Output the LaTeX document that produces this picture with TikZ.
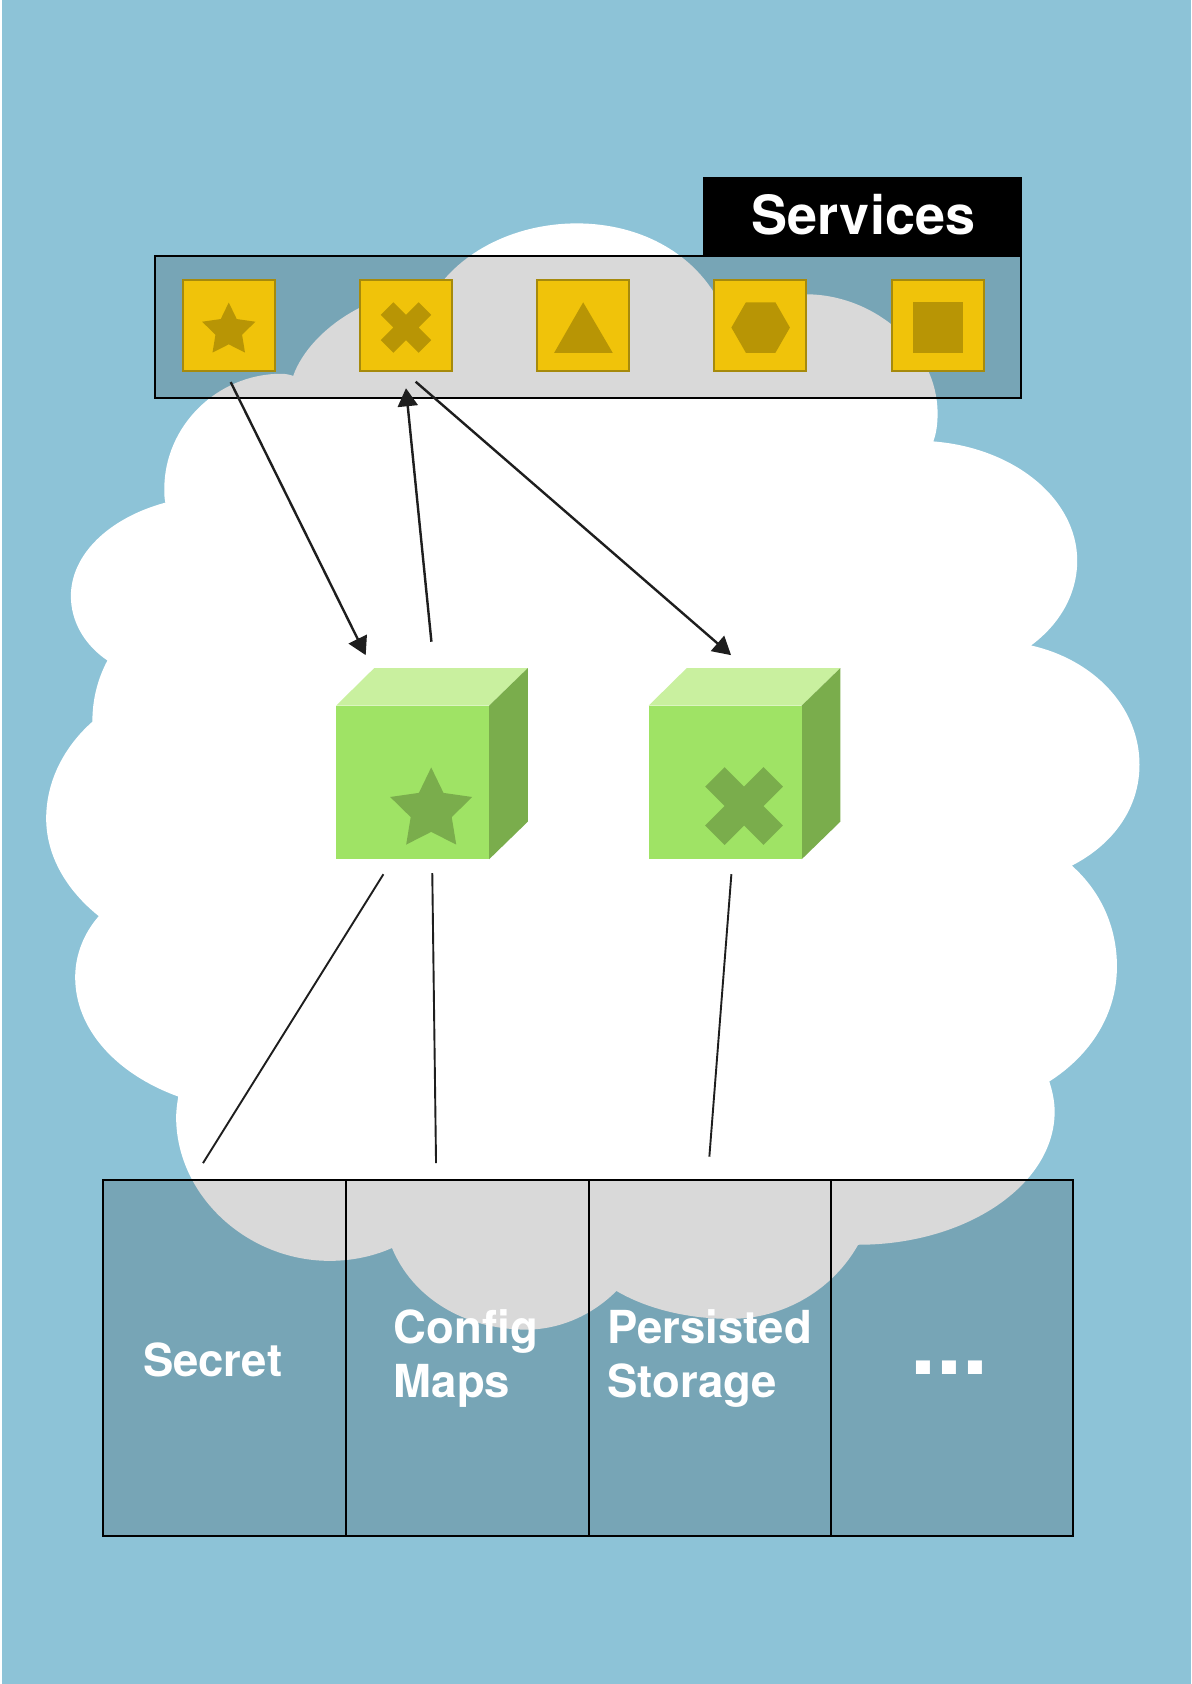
\documentclass[tikz,border=0pt]{standalone}
\usepackage{fontspec}
\setmainfont{TeX Gyre Heros}
\usetikzlibrary{arrows.meta}
\definecolor{skyblue}{HTML}{8DC3D7}
\definecolor{serviceyellow}{HTML}{F0C30A}
\definecolor{serviceedge}{HTML}{A68A0C}
\definecolor{servicemark}{HTML}{B89505}
\definecolor{cubefront}{HTML}{9FE365}
\definecolor{cubetop}{HTML}{C9F09F}
\definecolor{cubeside}{HTML}{7AAD4C}
\definecolor{wireblack}{HTML}{1E1E1E}
\tikzset{
  overlay box/.style={draw=black,fill=black,fill opacity=.15,draw opacity=1,line width=2pt},
  servicebox/.style={draw=serviceedge,fill=serviceyellow,line width=2pt,minimum width=92pt,minimum height=91pt,inner sep=0pt},
  whitetext/.style={text=white,font=\fontsize{45.5}{52}\selectfont\bfseries,anchor=base west,inner sep=0pt},
  flow/.style={-{Triangle[length=18pt,width=20pt]},draw=wireblack,line width=2.4pt},
  wire/.style={draw=wireblack,line width=1.9pt},
}
% unit marks, drawn at the current shift and scale
\newcommand{\starmark}{(0,-.94)--(.30,-.32)--(1,-.22)--(.5,.27)--(.61,.94)--(0,.63)--(-.61,.94)--(-.5,.27)--(-1,-.22)--(-.3,-.32)--cycle}
\newcommand{\crossmark}{(-.5,-1)--(0,-.5)--(.5,-1)--(1,-.5)--(.5,0)--(1,.5)--(.5,1)--(0,.5)--(-.5,1)--(-1,.5)--(-.5,0)--(-1,-.5)--cycle}
\newcommand{\greencube}[1]{
  \begin{scope}[shift={(#1,0)}]
    \fill[cubetop] (313,657)--(348.5,622)--(491.5,622)--(455.5,657)--cycle;
    \fill[cubeside] (455.5,657)--(491.5,622)--(491.5,765)--(455.5,800)--cycle;
    \fill[cubefront] (313,657) rectangle (455.5,800);
  \end{scope}
}
\begin{document}
\begin{tikzpicture}[x=1.074pt,y=-1.074pt]
	\useasboundingbox (0,0) rectangle (1109,1568);
	\fill[skyblue] (2,0) rectangle (1109,1568);
	% cloud
	\fill[white] (273,350) .. controls (281,327) and (304,302) .. (336,286)
		-- (400,280)
		.. controls (423,237) and (477,208) .. (537,208)
		.. controls (597,208) and (652,237) .. (675,292)
		.. controls (700,280) and (725,274) .. (750,274)
		.. controls (815,274) and (873,325) .. (873,385)
		.. controls (873,394) and (872,403) .. (869,411)
		.. controls (945,417) and (1003,465) .. (1003,522)
		.. controls (1003,553) and (987,581) .. (960,601)
		.. controls (1018,614) and (1061,658) .. (1061,712)
		.. controls (1061,752) and (1037,786) .. (998,806)
		.. controls (1025,830) and (1040,863) .. (1040,900)
		.. controls (1040,944) and (1016,982) .. (977,1007)
		.. controls (980,1016) and (982,1026) .. (982,1035)
		.. controls (982,1103) and (900,1159) .. (799,1159)
		.. controls (776,1200) and (731,1228) .. (680,1228)
		.. controls (639,1228) and (601,1218) .. (574,1202)
		.. controls (552,1224) and (522,1238) .. (490,1238)
		.. controls (432,1238) and (384,1208) .. (365,1162)
		.. controls (347,1170) and (327,1174) .. (307,1174)
		.. controls (230,1174) and (164,1113) .. (164,1040)
		.. controls (164,1034) and (165,1027) .. (166,1021)
		.. controls (108,1000) and (70,958) .. (70,910)
		.. controls (70,889) and (78,869) .. (92,853)
		.. controls (62,829) and (43,797) .. (43,762)
		.. controls (43,727) and (60,695) .. (86,672)
		.. controls (86,651) and (91,632) .. (100,615)
		.. controls (78,600) and (66,578) .. (66,555)
		.. controls (66,516) and (102,482) .. (154,468)
		.. controls (153,464) and (153,460) .. (153,455)
		.. controls (153,397) and (202,348) .. (262,348)
		.. controls (266,348) and (270,349) .. (273,350) -- cycle;
	% services band
	\fill[black] (655,165) rectangle (951.5,239);
	\node[text=white,font=\fontsize{54}{60}\selectfont\bfseries,inner sep=0pt,anchor=base] (services) at (804,218) {Services};
	\draw[overlay box] (144.5,238.5) rectangle (951,371);
	\node[servicebox] (svcstar) at (213,303.5) {};
	\node[servicebox] (svccross) at (378,303.5) {};
	\node[servicebox] (svctriangle) at (543,303.5) {};
	\node[servicebox] (svchexagon) at (708,303.5) {};
	\node[servicebox] (svcsquare) at (873,303.5) {};
	\fill[servicemark,shift={(213,305)},scale=24.8] \starmark;
	\fill[servicemark,shift={(378,305)},scale=23.5] \crossmark;
	\fill[servicemark] (516,328.5)--(543,281.5)--(570.5,328.5)--cycle;
	\fill[servicemark] (681,305)--(694.5,281.5)--(722,281.5)--(735.5,305)--(722,328.5)--(694.5,328.5)--cycle;
	\fill[servicemark] (850,281.5) rectangle (897,328.5);
	% pods
	\greencube{0}
	\greencube{291}
	\fill[cubeside,shift={(401.5,750.5)},scale=38.2] \starmark;
	\fill[cubeside,shift={(692.8,750.5)},scale=36.2] \crossmark;
	% stores
	\draw[overlay box] (96,1099) rectangle (322,1430);
	\draw[overlay box] (322,1099) rectangle (548,1430);
	\draw[overlay box] (548,1099) rectangle (774,1430);
	\draw[overlay box] (774,1099) rectangle (999.5,1430);
	\node[whitetext] (secret) at (133,1282) {Secret};
	\node[whitetext] (config) at (366.5,1251) {Config};
	\node[whitetext] (maps) at (366.5,1301) {Maps};
	\node[whitetext] (persisted) at (565.5,1251) {Persisted};
	\node[whitetext] (storage) at (565.5,1301) {Storage};
	\node[whitetext,font=\fontsize{93}{95}\selectfont\bfseries] (more) at (847.5,1279.5) {...};
	% connector ends
	\coordinate (starout) at (214.8,355.8);
	\coordinate (crossin) at (378,361.5);
	\coordinate (crossout) at (387,355.4);
	\coordinate (podstarin) at (340.5,610);
	\coordinate (podstarout) at (401.7,597.5);
	\coordinate (podcrossin) at (680.7,610);
	\coordinate (podstarleft) at (357,814);
	\coordinate (podstarmid) at (402.5,813);
	\coordinate (podcrossmid) at (681,814);
	\coordinate (secretup) at (189,1083);
	\coordinate (configup) at (406,1083);
	\coordinate (persistedup) at (660.5,1077);
	\draw[flow] (starout)--(podstarin);
	\draw[flow] (podstarout)--(crossin);
	\draw[flow] (crossout)--(podcrossin);
	\draw[wire] (podstarleft)--(secretup);
	\draw[wire] (podstarmid)--(configup);
	\draw[wire] (podcrossmid)--(persistedup);
\end{tikzpicture}
\end{document}
